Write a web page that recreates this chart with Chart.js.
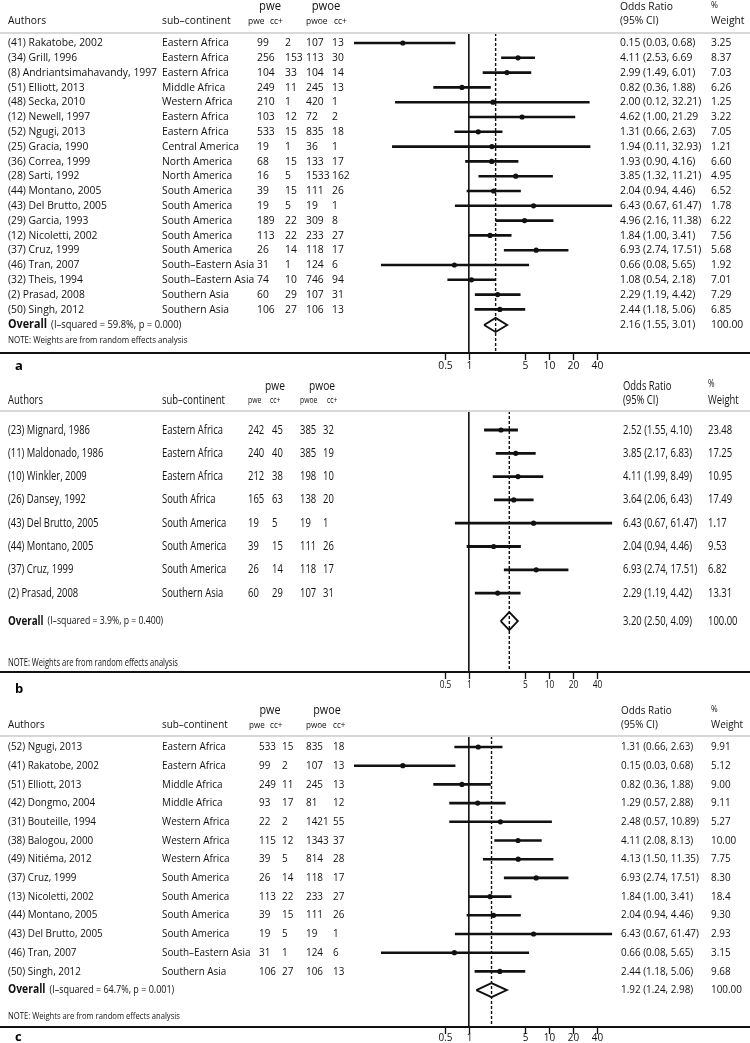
<!DOCTYPE html>
<html>
<head>
<meta charset="utf-8">
<title>Forest plots</title>
<script src="https://cdn.jsdelivr.net/npm/chart.js@4.4.1/dist/chart.umd.min.js"></script>
<style>
  html, body { margin: 0; padding: 0; background: #fff; }
  #wrap { position: relative; width: 750px; height: 1043px; overflow: hidden; }
  .panel { position: absolute; left: 0; width: 750px; }
  .panel canvas { display: block; }
</style>
</head>
<body>
<div id="wrap">
  <div class="panel" style="top:0px"><canvas id="panelA" width="750" height="372"></canvas></div>
  <div class="panel" style="top:372px"><canvas id="panelB" width="750" height="325"></canvas></div>
  <div class="panel" style="top:697px"><canvas id="panelC" width="750" height="346"></canvas></div>
</div>
<script>
// Odds ratio axis ticks (shared by all three panels)
const TICKS = [0.5, 1, 5, 10, 20, 40];

// ---- Panel a ----
const A_AUTHORS = ["(41) Rakatobe, 2002", "(34) Grill, 1996", "(8) Andriantsimahavandy, 1997", "(51) Elliott, 2013",
  "(48) Secka, 2010", "(12) Newell, 1997", "(52) Ngugi, 2013", "(25) Gracia, 1990", "(36) Correa, 1999",
  "(28) Sarti, 1992", "(44) Montano, 2005", "(43) Del Brutto, 2005", "(29) Garcia, 1993", "(12) Nicoletti, 2002",
  "(37) Cruz, 1999", "(46) Tran, 2007", "(32) Theis, 1994", "(2) Prasad, 2008", "(50) Singh, 2012"];
const A_REGIONS = ["Eastern Africa", "Eastern Africa", "Eastern Africa", "Middle Africa", "Western Africa",
  "Eastern Africa", "Eastern Africa", "Central America", "North America", "North America", "South America",
  "South America", "South America", "South America", "South America", "South–Eastern Asia", "South–Eastern Asia",
  "Southern Asia", "Southern Asia"];
const A_PWE = [99, 256, 104, 249, 210, 103, 533, 19, 68, 16, 39, 19, 189, 113, 26, 31, 74, 60, 106];
const A_PWE_CC = [2, 153, 33, 11, 1, 12, 15, 1, 15, 5, 15, 5, 22, 22, 14, 1, 10, 29, 27];
const A_PWOE = [107, 113, 104, 245, 420, 72, 835, 36, 133, 1533, 111, 19, 309, 233, 118, 124, 746, 107, 106];
const A_PWOE_CC = [13, 30, 14, 13, 1, 2, 18, 1, 17, 162, 26, 1, 8, 27, 17, 6, 94, 31, 13];
const A_OR = [0.15, 4.11, 2.99, 0.82, 2.00, 4.62, 1.31, 1.94, 1.93, 3.85, 2.04, 6.43, 4.96, 1.84, 6.93, 0.66, 1.08, 2.29, 2.44];
const A_LO = [0.03, 2.53, 1.49, 0.36, 0.12, 1.00, 0.66, 0.11, 0.90, 1.32, 0.94, 0.67, 2.16, 1.00, 2.74, 0.08, 0.54, 1.19, 1.18];
const A_HI = [0.68, 6.69, 6.01, 1.88, 32.21, 21.29, 2.63, 32.93, 4.16, 11.21, 4.46, 61.47, 11.38, 3.41, 17.51, 5.65, 2.18, 4.42, 5.06];
const A_WEIGHT = ["3.25", "8.37", "7.03", "6.26", "1.25", "3.22", "7.05", "1.21", "6.60", "4.95", "6.52", "1.78",
  "6.22", "7.56", "5.68", "1.92", "7.01", "7.29", "6.85"];
const A_NO_CLOSE = [1, 5]; // rows printed without the closing bracket
const A_OVERALL = [2.16, 1.55, 3.01];
const A_HET = "(I–squared = 59.8%, p = 0.000)";

// ---- Panel b ----
const B_AUTHORS = ["(23) Mignard, 1986", "(11) Maldonado, 1986", "(10) Winkler, 2009", "(26) Dansey, 1992",
  "(43) Del Brutto, 2005", "(44) Montano, 2005", "(37) Cruz, 1999", "(2) Prasad, 2008"];
const B_REGIONS = ["Eastern Africa", "Eastern Africa", "Eastern Africa", "South Africa", "South America",
  "South America", "South America", "Southern Asia"];
const B_PWE = [242, 240, 212, 165, 19, 39, 26, 60];
const B_PWE_CC = [45, 40, 38, 63, 5, 15, 14, 29];
const B_PWOE = [385, 385, 198, 138, 19, 111, 118, 107];
const B_PWOE_CC = [32, 19, 10, 20, 1, 26, 17, 31];
const B_OR = [2.52, 3.85, 4.11, 3.64, 6.43, 2.04, 6.93, 2.29];
const B_LO = [1.55, 2.17, 1.99, 2.06, 0.67, 0.94, 2.74, 1.19];
const B_HI = [4.10, 6.83, 8.49, 6.43, 61.47, 4.46, 17.51, 4.42];
const B_WEIGHT = ["23.48", "17.25", "10.95", "17.49", "1.17", "9.53", "6.82", "13.31"];
const B_OVERALL = [3.20, 2.50, 4.09];
const B_HET = "(I–squared = 3.9%, p = 0.400)";

// ---- Panel c ----
const C_AUTHORS = ["(52) Ngugi, 2013", "(41) Rakatobe, 2002", "(51) Elliott, 2013", "(42) Dongmo, 2004",
  "(31) Bouteille, 1994", "(38) Balogou, 2000", "(49) Nitiéma, 2012", "(37) Cruz, 1999", "(13) Nicoletti, 2002",
  "(44) Montano, 2005", "(43) Del Brutto, 2005", "(46) Tran, 2007", "(50) Singh, 2012"];
const C_REGIONS = ["Eastern Africa", "Eastern Africa", "Middle Africa", "Middle Africa", "Western Africa",
  "Western Africa", "Western Africa", "South America", "South America", "South America", "South America",
  "South–Eastern Asia", "Southern Asia"];
const C_PWE = [533, 99, 249, 93, 22, 115, 39, 26, 113, 39, 19, 31, 106];
const C_PWE_CC = [15, 2, 11, 17, 2, 12, 5, 14, 22, 15, 5, 1, 27];
const C_PWOE = [835, 107, 245, 81, 1421, 1343, 814, 118, 233, 111, 19, 124, 106];
const C_PWOE_CC = [18, 13, 13, 12, 55, 37, 28, 17, 27, 26, 1, 6, 13];
const C_OR = [1.31, 0.15, 0.82, 1.29, 2.48, 4.11, 4.13, 6.93, 1.84, 2.04, 6.43, 0.66, 2.44];
const C_LO = [0.66, 0.03, 0.36, 0.57, 0.57, 2.08, 1.50, 2.74, 1.00, 0.94, 0.67, 0.08, 1.18];
const C_HI = [2.63, 0.68, 1.88, 2.88, 10.89, 8.13, 11.35, 17.51, 3.41, 4.46, 61.47, 5.65, 5.06];
const C_WEIGHT = ["9.91", "5.12", "9.00", "9.11", "5.27", "10.00", "7.75", "8.30", "18.4", "9.30", "2.93", "3.15", "9.68"];
const C_OVERALL = [1.92, 1.24, 2.98];
const C_HET = "(I–squared = 64.7%, p = 0.001)";

// Shared styling / geometry
const FONT = '"Open Sans", "Noto Sans", sans-serif';
const INK = "#111";
const TEXT = "#111";
const PLOT_LEFT = 354;     // forest area starts here (long CIs are clipped)
const ONE_X = 470;         // pixel where OR = 1
const PX_PER_DOUBLING = 24.36;
const X_MIN = Math.pow(2, -(ONE_X - PLOT_LEFT) / PX_PER_DOUBLING);
const X_MAX = Math.pow(2, (750 - ONE_X) / PX_PER_DOUBLING);

const PANELS = [
  {
    id: "panelA", letter: "a", top: 0, height: 372,
    authors: A_AUTHORS, regions: A_REGIONS, counts: [A_PWE, A_PWE_CC, A_PWOE, A_PWOE_CC],
    or: A_OR, lo: A_LO, hi: A_HI, weight: A_WEIGHT, noClose: A_NO_CLOSE, overall: A_OVERALL, het: A_HET,
    layout: { bigHdrY: 7, hdrY: 21, grayY: 33, row0: 43, step: 14.8, overallRow: 19.05, noteY: 341,
      axisY: 353, tickLblY: 366, letterY: 366, font: 11, fitText: "(8) Andriantsimahavandy, 1997", fitW: 149,
      ciWidth: 2.6, dot: 2.6, diamondHalf: 7 },
    cols: { author: 8, region: 162, nums: [257, 285, 306, 332], hdr: [248, 270, 306, 334],
      bigPwe: 270, bigPwoe: 326, or: 620, wt: 711 }
  },
  {
    id: "panelB", letter: "b", top: 372, height: 325,
    authors: B_AUTHORS, regions: B_REGIONS, counts: [B_PWE, B_PWE_CC, B_PWOE, B_PWOE_CC],
    or: B_OR, lo: B_LO, hi: B_HI, weight: B_WEIGHT, noClose: [], overall: B_OVERALL, het: B_HET,
    layout: { bigHdrY: 386, hdrY: 400, grayY: 411, row0: 430, step: 23.3, overallRow: 8.2, noteY: 663,
      axisY: 672, tickLblY: 685, letterY: 689, font: 12.5, fitText: "(23) Mignard, 1986", fitW: 82,
      ciWidth: 2.8, dot: 2.6, diamondHalf: 9 },
    cols: { author: 8, region: 162, nums: [248, 272, 300, 323], hdr: [248, 270, 300, 327],
      bigPwe: 275, bigPwoe: 322, or: 623, wt: 708 }
  },
  {
    id: "panelC", letter: "c", top: 697, height: 346,
    authors: C_AUTHORS, regions: C_REGIONS, counts: [C_PWE, C_PWE_CC, C_PWOE, C_PWOE_CC],
    or: C_OR, lo: C_LO, hi: C_HI, weight: C_WEIGHT, noClose: [], overall: C_OVERALL, het: C_HET,
    layout: { bigHdrY: 711, hdrY: 725, grayY: 736, row0: 747, step: 18.7, overallRow: 13, noteY: 1017,
      axisY: 1027, tickLblY: 1038, letterY: 1037, font: 11, fitText: "(31) Bouteille, 1994", fitW: 88,
      ciWidth: 2.6, dot: 2.6, diamondHalf: 7 },
    cols: { author: 8, region: 162, nums: [259, 282, 306, 333], hdr: [249, 270, 306, 333],
      bigPwe: 270, bigPwoe: 327, or: 621, wt: 711 }
  }
];

// Draw text squeezed horizontally by sx, returns drawn width
function drawText(ctx, s, x, y, size, opts = {}) {
  const sx = opts.sx || 1;
  ctx.save();
  ctx.font = (opts.bold ? "bold " : "") + size + "px " + FONT;
  ctx.fillStyle = opts.color || TEXT;
  ctx.textBaseline = "middle";
  ctx.textAlign = opts.align || "left";
  ctx.translate(x, y);
  ctx.scale(sx, 1);
  ctx.fillText(s, 0, 0);
  const w = ctx.measureText(s).width * sx;
  ctx.restore();
  return w;
}

function fmt(v) {
  return v.toFixed(2);
}

function orLabel(or, lo, hi, open) {
  return fmt(or) + " (" + fmt(lo) + ", " + fmt(hi) + (open ? "" : ")");
}

// Table, header, axis line and ticks around the forest area
function tablePlugin(p) {
  return {
    id: "forestTable",
    afterDraw(chart) {
      const ctx = chart.ctx;
      const L = p.layout;
      const C = p.cols;
      const y = (v) => v - p.top;

      ctx.save();
      ctx.font = L.font + "px " + FONT;
      const sx = L.fitW / ctx.measureText(L.fitText).width;
      ctx.restore();

      // header rule and axis rule
      ctx.save();
      ctx.strokeStyle = "#d8d8d8";
      ctx.lineWidth = 2;
      ctx.beginPath();
      ctx.moveTo(0, y(L.grayY));
      ctx.lineTo(750, y(L.grayY));
      ctx.stroke();
      ctx.strokeStyle = INK;
      ctx.lineWidth = 2;
      ctx.beginPath();
      ctx.moveTo(0, y(L.axisY));
      ctx.lineTo(750, y(L.axisY));
      ctx.stroke();

      // ticks through the x scale
      const xs = chart.scales.x;
      ctx.lineWidth = 1.3;
      TICKS.forEach((t) => {
        const px = Math.round(xs.getPixelForValue(t)) + 0.5;
        ctx.beginPath();
        ctx.moveTo(px, y(L.axisY));
        ctx.lineTo(px, y(L.axisY) + 7);
        ctx.stroke();
        drawText(ctx, String(t), px, y(L.tickLblY), 11, { sx, align: "center" });
      });
      ctx.restore();

      // headers
      drawText(ctx, "pwe", C.bigPwe, y(L.bigHdrY), L.font + 1, { sx, align: "center" });
      drawText(ctx, "pwoe", C.bigPwoe, y(L.bigHdrY), L.font + 1, { sx, align: "center" });
      drawText(ctx, "Authors", C.author, y(L.hdrY), L.font, { sx });
      drawText(ctx, "sub–continent", C.region, y(L.hdrY), L.font, { sx });
      ["pwe", "cc+", "pwoe", "cc+"].forEach((h, k) => {
        drawText(ctx, h, C.hdr[k], y(L.hdrY), Math.min(L.font - 2, 9), { sx });
      });
      drawText(ctx, "Odds Ratio", C.or, y(L.bigHdrY), L.font, { sx });
      drawText(ctx, "(95% CI)", C.or, y(L.hdrY), L.font, { sx });
      drawText(ctx, "%", C.wt, y(L.bigHdrY - 2), L.font - 2, { sx });
      drawText(ctx, "Weight", C.wt, y(L.hdrY), L.font, { sx });

      // study rows
      p.authors.forEach((a, i) => {
        const ry = y(L.row0 + i * L.step);
        drawText(ctx, a, C.author, ry, L.font, { sx });
        drawText(ctx, p.regions[i], C.region, ry, L.font, { sx });
        p.counts.forEach((col, k) => drawText(ctx, String(col[i]), C.nums[k], ry, L.font, { sx }));
        drawText(ctx, orLabel(p.or[i], p.lo[i], p.hi[i], p.noClose.includes(i)), C.or, ry, L.font, { sx });
        drawText(ctx, p.weight[i], C.wt, ry, L.font, { sx });
      });

      // overall row
      const oy = y(L.row0 + L.overallRow * L.step);
      const w = drawText(ctx, "Overall", C.author, oy, L.font + 0.5, { sx, bold: true });
      drawText(ctx, p.het, C.author + w + 4, oy, L.font - 1, { sx });
      drawText(ctx, orLabel(p.overall[0], p.overall[1], p.overall[2], false), C.or, oy, L.font, { sx });
      drawText(ctx, "100.00", C.wt, oy, L.font, { sx });

      // note and panel letter
      drawText(ctx, "NOTE: Weights are from random effects analysis", C.author, y(L.noteY), L.font - 2.5, { sx });
      drawText(ctx, p.letter, 15, y(L.letterY), 13, { bold: true, color: "#000" });
    }
  };
}

function buildPanel(p) {
  const L = p.layout;
  const yMin = (L.grayY - L.row0) / L.step;
  const yMax = (L.axisY - L.row0) / L.step;
  const datasets = [];

  // point estimates
  datasets.push({
    data: p.or.map((v, i) => ({ x: v, y: i })),
    showLine: false,
    pointRadius: L.dot,
    pointBackgroundColor: INK,
    pointBorderWidth: 0,
    order: 0,
  });

  // confidence intervals
  p.lo.forEach((lo, i) => {
    datasets.push({
      data: [{ x: lo, y: i }, { x: p.hi[i], y: i }],
      showLine: true,
      borderColor: INK,
      borderWidth: L.ciWidth,
      borderCapStyle: "butt",
      pointRadius: 0,
      order: 1,
    });
  });

  // overall diamond
  const [ov, olo, ohi] = p.overall;
  const r = L.overallRow;
  const h = L.diamondHalf / L.step;
  datasets.push({
    data: [{ x: olo, y: r }, { x: ov, y: r - h }, { x: ohi, y: r }, { x: ov, y: r + h }, { x: olo, y: r }],
    showLine: true,
    borderColor: INK,
    borderWidth: 1.9,
    borderJoinStyle: "miter",
    pointRadius: 0,
    order: 1,
  });

  // no-effect line and overall (dashed) line
  datasets.push({
    data: [{ x: 1, y: yMin }, { x: 1, y: yMax }],
    showLine: true,
    borderColor: INK,
    borderWidth: 1.6,
    pointRadius: 0,
    order: 2,
  });
  datasets.push({
    data: [{ x: ov, y: yMin }, { x: ov, y: yMax }],
    showLine: true,
    borderColor: INK,
    borderWidth: 1.4,
    borderDash: [3, 2],
    pointRadius: 0,
    order: 2,
  });

  new Chart(document.getElementById(p.id), {
    type: "scatter",
    data: { datasets },
    options: {
      responsive: false,
      animation: false,
      events: [],
      layout: {
        padding: {
          left: PLOT_LEFT,
          right: 0,
          top: L.grayY - p.top,
          bottom: p.height - (L.axisY - p.top),
        },
      },
      plugins: {
        legend: { display: false },
        tooltip: { enabled: false },
      },
      scales: {
        x: { type: "logarithmic", display: false, bounds: "data", min: X_MIN, max: X_MAX },
        y: { type: "linear", display: false, bounds: "data", reverse: true, min: yMin, max: yMax },
      },
    },
    plugins: [tablePlugin(p)],
  });
}

PANELS.forEach(buildPanel);
</script>
</body>
</html>
